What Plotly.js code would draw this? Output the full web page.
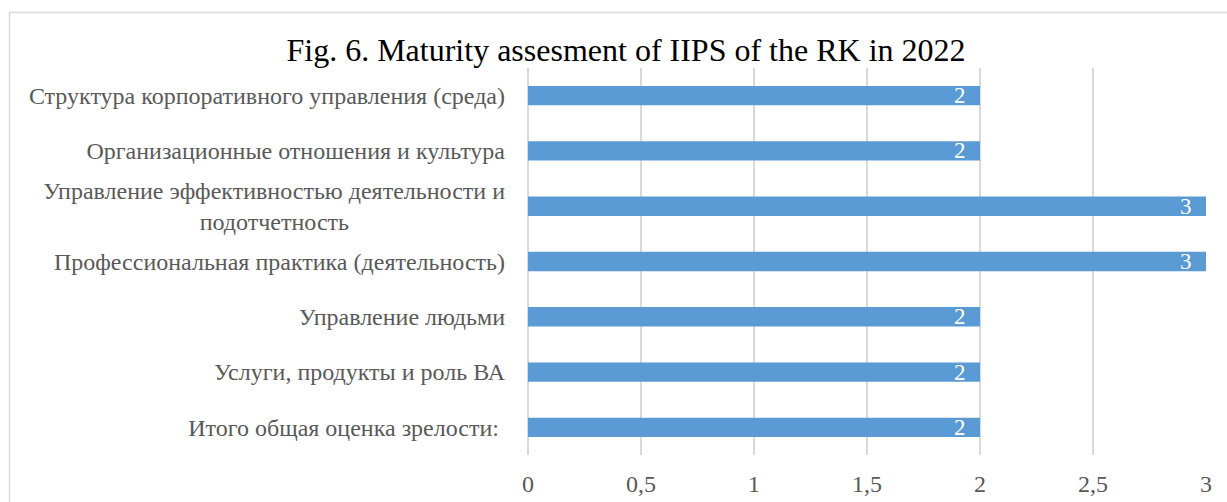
<!DOCTYPE html>
<html><head><meta charset="utf-8">
<script src="https://cdn.plot.ly/plotly-3.0.1.min.js"></script>
<style>html,body{margin:0;padding:0;background:#fff}#chart{width:1227px;height:502px}</style>
</head><body><div id="chart"></div>
<script>
var NB = '\u00A0';
var categories = [
  "Структура корпоративного управления (среда)",
  "Организационные отношения и культура",
  "Управление эффективностью деятельности и<br>подотчетность" + NB.repeat(26),
  "Профессиональная практика (деятельность)",
  "Управление людьми",
  "Услуги, продукты и роль ВА",
  "Итого общая оценка зрелости: "
];
var values = [2, 2, 3, 3, 2, 2, 2];
var tickVals = [0, 0.5, 1, 1.5, 2, 2.5, 3];

var W = 1227, H = 502;
var L = 528, R = 21, T = 68, B = 47;
var pw = W - L - R, ph = H - T - B;
function px(x){ return (x - L) / pw; }
function py(y){ return (H - B - y) / ph; }

var trace = {
  type: 'bar', orientation: 'h',
  y: categories, x: values,
  marker: {color: '#5B9BD5'},
  width: 0.35,
  texttemplate: '%{x}' + NB + NB,
  textposition: 'inside',
  insidetextanchor: 'end',
  textangle: 0,
  constraintext: 'none',
  textfont: {family: 'Liberation Serif', size: 23, color: '#ffffff'},
  hoverinfo: 'none'
};

var layout = {
  width: W, height: H,
  margin: {l: L, r: R, t: T, b: B},
  paper_bgcolor: '#ffffff', plot_bgcolor: '#ffffff',
  separators: ', ',
  showlegend: false,
  font: {family: 'Liberation Serif', color: '#595959', size: 24},
  title: {
    text: 'Fig. 6. Maturity assesment of IIPS of the RK in 2022',
    font: {family: 'Liberation Serif', size: 32, color: '#000000'},
    x: 626 / W, xanchor: 'center', xref: 'container',
    y: 1 - 50 / H, yanchor: 'middle', yref: 'container'
  },
  xaxis: {
    range: [0, 3], tickvals: tickVals,
    showgrid: true, gridcolor: '#D9D9D9', gridwidth: 1.5,
    zeroline: true, zerolinecolor: '#D9D9D9', zerolinewidth: 1.5,
    showline: false, ticks: '',
    tickfont: {family: 'Liberation Serif', size: 24, color: '#595959'},
    ticklabelstandoff: 12, fixedrange: true
  },
  yaxis: {
    type: 'category', autorange: 'reversed',
    showgrid: false, zeroline: false, showline: false, ticks: '',
    ticklabelstandoff: 22,
    tickfont: {family: 'Liberation Serif', size: 24, color: '#595959'},
    fixedrange: true
  },
  shapes: [{
    type: 'rect', xref: 'paper', yref: 'paper',
    x0: px(9.5), x1: px(1240), y0: py(520), y1: py(12.5),
    line: {color: '#D9D9D9', width: 1.5}, fillcolor: 'rgba(0,0,0,0)', layer: 'below'
  }]
};

Plotly.newPlot('chart', [trace], layout, {staticPlot: true, displayModeBar: false});
</script>
</body></html>
